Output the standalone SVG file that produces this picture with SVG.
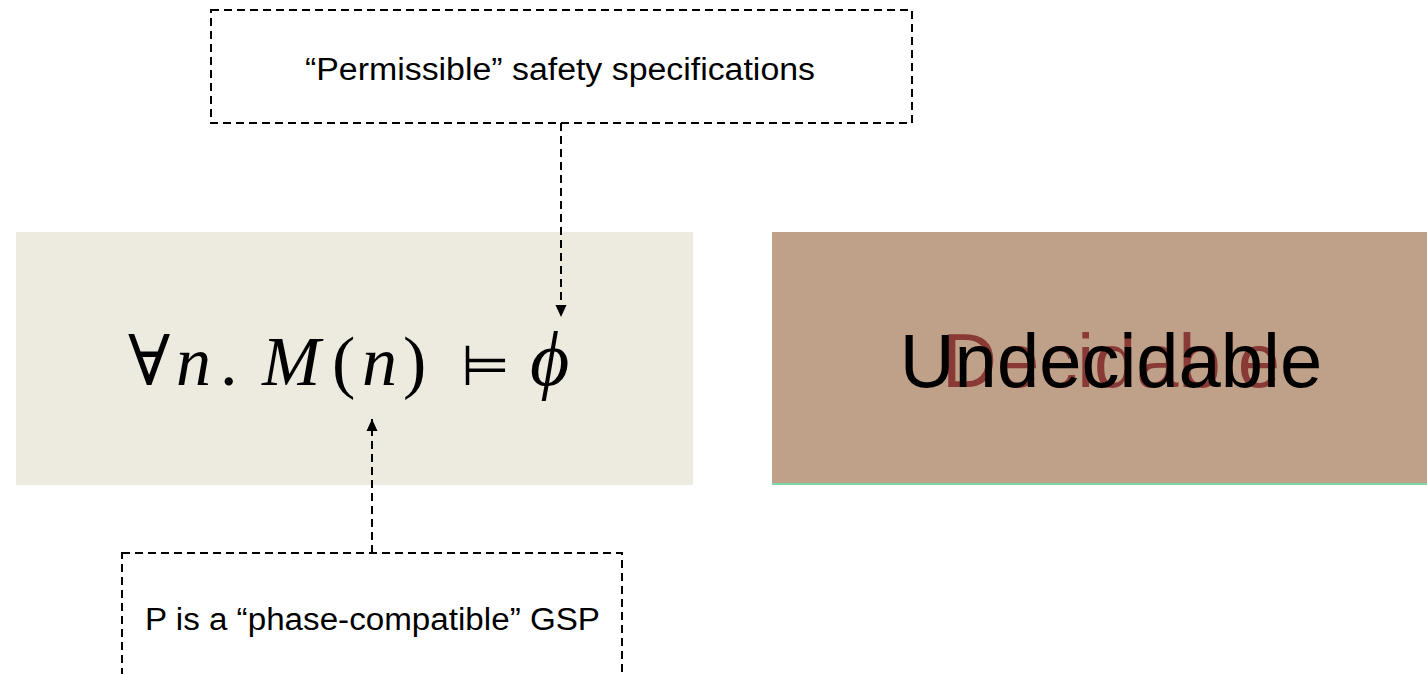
<svg xmlns="http://www.w3.org/2000/svg" width="1427" height="674" viewBox="0 0 1427 674">
  <style>
    .dash { fill: none; stroke: #000; stroke-width: 2; stroke-dasharray: 8 5; }
    .label { font-family: "Liberation Sans", Arial, sans-serif; font-size: 31px; fill: #000; }
    .math { font-family: "Liberation Serif", "DejaVu Serif", serif; font-size: 70px; fill: #000; }
    .it { font-style: italic; }
    .big { font-family: "Liberation Sans", Arial, sans-serif; font-size: 76px; text-anchor: middle; }
  </style>
  <defs>
    <marker id="tip" viewBox="0 0 12 12" refX="12" refY="6" markerWidth="12" markerHeight="12" markerUnits="userSpaceOnUse" orient="auto">
      <path d="M0,0.5 L12,6 L0,11.5 z" fill="#000"/>
    </marker>
  </defs>
  <rect width="1427" height="674" fill="#fff"/>

  <g id="spec-box">
    <rect class="dash" x="211" y="10" width="701" height="113"/>
    <text class="label" x="305" y="80" textLength="510" lengthAdjust="spacingAndGlyphs">“Permissible” safety specifications</text>
  </g>

  <g id="formula">
    <rect x="16" y="232" width="677" height="253" fill="#EDEAE0"/>
    <text class="math" y="385">
      <tspan x="128">∀</tspan><tspan class="it" x="176">n</tspan><tspan x="220">.</tspan>
      <tspan class="it" x="262">M</tspan><tspan x="332">(</tspan><tspan class="it" x="362">n</tspan><tspan x="403">)</tspan>
      <tspan x="461" font-family="DejaVu Sans, sans-serif" font-size="56">⊨</tspan>
      <tspan class="it" x="530" font-size="76">ϕ</tspan>
    </text>
  </g>

  <g id="verdict">
    <rect x="772" y="232" width="655" height="253" fill="#BFA088"/>
    <line x1="772" y1="484" x2="1427" y2="484" stroke="#7ED6A6" stroke-width="2"/>
    <text class="big" x="1111" y="387" fill="#8A3A36">Decidable</text>
    <text class="big" x="1111" y="387" fill="#000">Undecidable</text>
  </g>

  <g id="gsp-box">
    <rect class="dash" x="122" y="553" width="500" height="140"/>
    <text class="label" x="145" y="630" textLength="455" lengthAdjust="spacingAndGlyphs">P is a “phase-compatible” GSP</text>
  </g>

  <g id="connectors">
    <line class="dash" x1="561" y1="123" x2="561" y2="317" marker-end="url(#tip)"/>
    <line class="dash" x1="372" y1="553" x2="372" y2="419" marker-end="url(#tip)"/>
  </g>
</svg>
